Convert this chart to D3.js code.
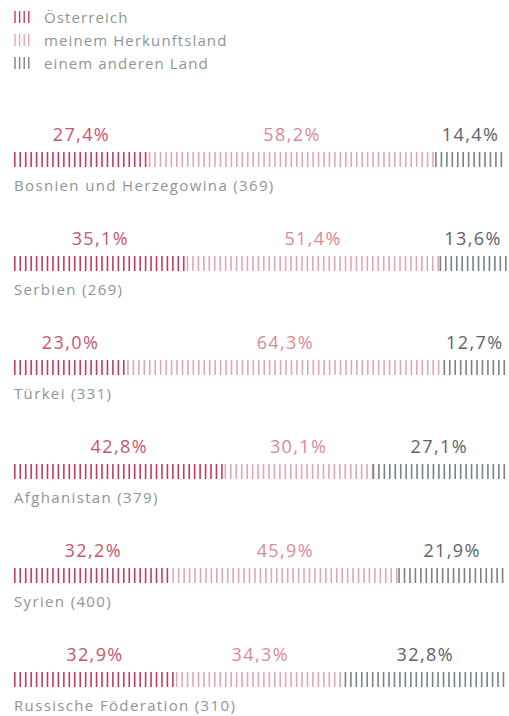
<!DOCTYPE html>
<html>
<head>
<meta charset="utf-8">
<script src="https://cdn.jsdelivr.net/npm/d3@7"></script>
<style>
  body { margin: 0; background: #fff; }
  text { font-family: "Open Sans", sans-serif; font-weight: 400; }
</style>
</head>
<body>
<div class="chartdiv"></div>
<script>
// data
var countries = ["Bosnien und Herzegowina (369)", "Serbien (269)", "Türkei (331)",
    "Afghanistan (379)", "Syrien (400)", "Russische Föderation (310)"];
var oesterreich = [27.4, 35.1, 23.0, 42.8, 32.2, 32.9];
var herkunftsland = [58.2, 51.4, 64.3, 30.1, 45.9, 34.3];
var anderesLand = [14.4, 13.6, 12.7, 27.1, 21.9, 32.8];
var seriesNames = ["Österreich", "meinem Herkunftsland", "einem anderen Land"];

var width = 509, height = 716;
var barColors = ["#c23a63", "#e3a6b5", "#79818b"];
var labelColors = ["#c65671", "#d9899a", "#5c636c"];

var svg = d3.select("div.chartdiv")
    .append("svg")
    .attr("width", width)
    .attr("height", height);

// legend
var legend = svg.selectAll(".legend")
    .data(seriesNames)
    .enter()
    .append("g")
    .attr("class", "legend")
    .attr("transform", function(d, i) { return "translate(0," + (i * 23) + ")"; });

legend.each(function(d, i) {
    d3.select(this).selectAll("line")
        .data(d3.range(4))
        .enter()
        .append("line")
        .attr("x1", function(k) { return 15 + k * 4.6; })
        .attr("x2", function(k) { return 15 + k * 4.6; })
        .attr("y1", 11)
        .attr("y2", 23)
        .style("stroke", barColors[i])
        .style("stroke-width", 1.4);
});

legend.append("text")
    .attr("x", 44)
    .attr("y", 23)
    .style("font-size", "15px")
    .style("letter-spacing", "1.1px")
    .style("fill", "#8f9499")
    .text(function(d) { return d; });

var x = d3.scaleLinear().domain([0, 100]).range([14, 506]);
var y = d3.scaleBand().domain(countries).range([100, 724]);

var rows = svg.selectAll(".row")
    .data(countries)
    .enter()
    .append("g")
    .attr("class", "row")
    .attr("transform", function(d) { return "translate(0," + y(d) + ")"; });

rows.each(function(name, r) {
    var g = d3.select(this);
    var vals = [oesterreich[r], herkunftsland[r], anderesLand[r]];
    var start = 0;
    vals.forEach(function(v, s) {
        var x0 = x(start), x1 = x(start + v);
        var lines = d3.range(x0 + 0.8, x1, 5.45);
        g.selectAll(".seg" + s)
            .data(lines)
            .enter()
            .append("line")
            .attr("x1", function(d) { return d; })
            .attr("x2", function(d) { return d; })
            .attr("y1", 52)
            .attr("y2", 67)
            .style("stroke", barColors[s])
            .style("stroke-width", 1.6);
        g.append("text")
            .attr("x", (x0 + x1) / 2)
            .attr("y", 41)
            .attr("text-anchor", "middle")
            .style("font-size", "18px")
            .style("letter-spacing", "1.4px")
            .style("fill", labelColors[s])
            .text(d3.format(".1f")(v).replace(".", ",") + "%");
        start += v;
    });
    g.append("text")
        .attr("x", 14)
        .attr("y", 91)
        .style("font-size", "15px")
        .style("letter-spacing", "1.35px")
        .style("fill", "#8f9499")
        .text(name);
});
</script>
</body>
</html>
